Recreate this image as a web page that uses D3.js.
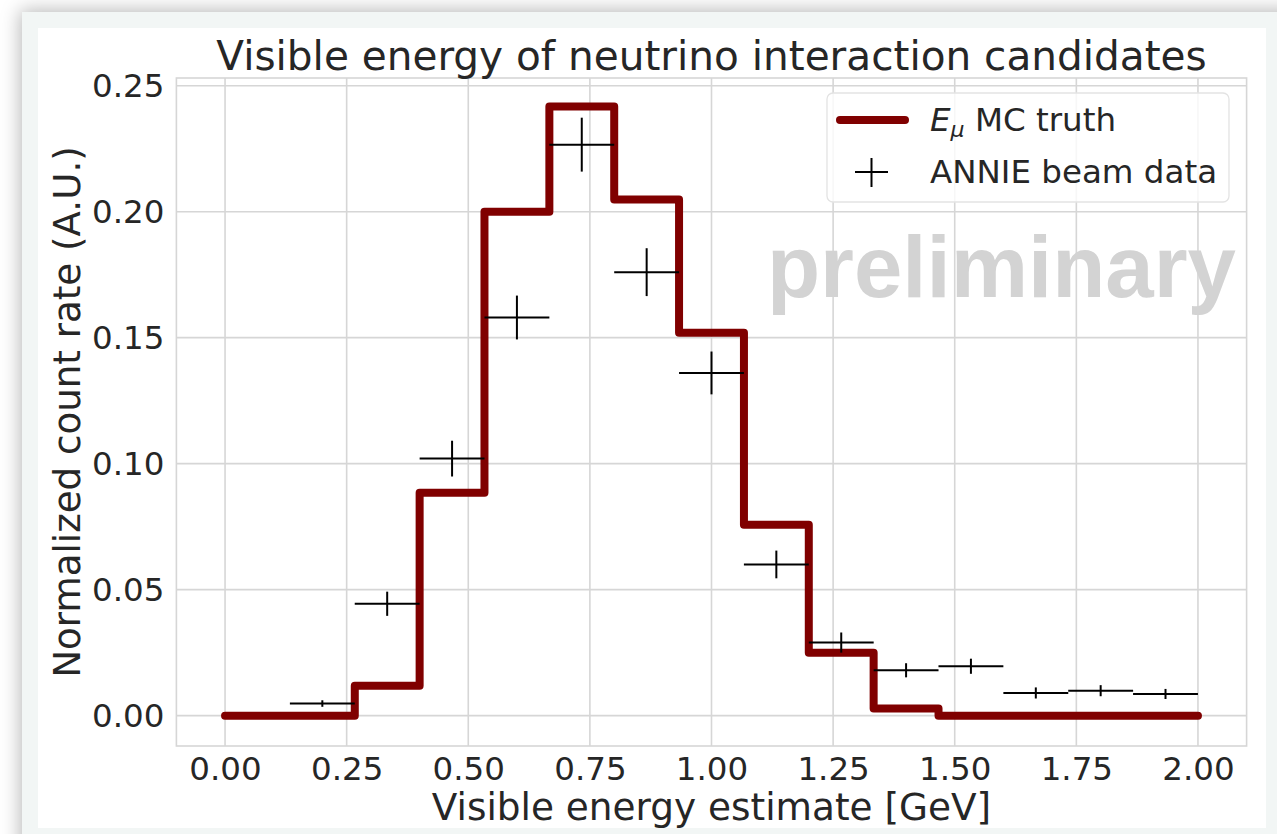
<!DOCTYPE html>
<html>
<head>
<meta charset="utf-8">
<script src="https://cdn.jsdelivr.net/npm/d3@7"></script>
<style>
  html, body { margin: 0; padding: 0; background: #ffffff; overflow: hidden; }
  #panel {
    position: absolute; left: 22px; top: 12px; width: 1300px; height: 900px;
    background: #f2f6f5; box-shadow: -2px -2px 18px rgba(0,0,0,0.28);
  }
  svg { position: absolute; left: 0; top: 0; }
</style>
</head>
<body>
<div id="panel"></div>
<svg id="chart" width="1277" height="834"></svg>
<script>
// Bin edges of the energy histogram (GeV): 15 bins from 0 to 2
const binEdges = [0, 0.1333, 0.2667, 0.4, 0.5333, 0.6667, 0.8, 0.9333, 1.0667, 1.2, 1.3333, 1.4667, 1.6, 1.7333, 1.8667, 2.0];
// MC truth (normalized), one value per bin
const mcTruth = [0, 0, 0.0119, 0.0885, 0.2, 0.2417, 0.2048, 0.152, 0.0758, 0.025, 0.0028, 0, 0, 0, 0];
// Beam data: bin centres, values and statistical errors
const dataCenters = [0.2, 0.3333, 0.4667, 0.6, 0.7333, 0.8667, 1.0, 1.1333, 1.2667, 1.4, 1.5333, 1.6667, 1.8, 1.9333];
const dataValues  = [0.0048, 0.0444, 0.1020, 0.1580, 0.2266, 0.1760, 0.1360, 0.0600, 0.0290, 0.0180, 0.0196, 0.0090, 0.0099, 0.0086];
const dataErrors  = [0.0013, 0.0048, 0.0071, 0.0087, 0.0107, 0.0095, 0.0085, 0.0055, 0.0040, 0.0028, 0.0030, 0.0022, 0.0022, 0.0020];
const binHalfWidth = 0.0667;
// Tick labels
const xTicks = [0, 0.25, 0.5, 0.75, 1.0, 1.25, 1.5, 1.75, 2.0];
const yTicks = [0, 0.05, 0.10, 0.15, 0.20, 0.25];

const svg = d3.select("#chart");
const textColor = "#262626";
const gridColor = "#d6d6d6";
const font = "'DejaVu Sans', sans-serif";

// white figure area
svg.append("rect").attr("x", 38).attr("y", 28).attr("width", 1228).attr("height", 800).attr("fill", "#ffffff");

const x = d3.scaleLinear().domain([-0.1, 2.1]).range([176.4, 1246.6]);
const y = d3.scaleLinear().domain([-0.01205, 0.25305]).range([746, 78]);

const plot = svg.append("g");

// grid
plot.selectAll(".gx").data(xTicks).join("line")
  .attr("x1", d => x(d)).attr("x2", d => x(d)).attr("y1", y.range()[1]).attr("y2", y.range()[0])
  .attr("stroke", gridColor).attr("stroke-width", 1.6);
plot.selectAll(".gy").data(yTicks).join("line")
  .attr("y1", d => y(d)).attr("y2", d => y(d)).attr("x1", x.range()[0]).attr("x2", x.range()[1])
  .attr("stroke", gridColor).attr("stroke-width", 1.6);

// spines
plot.append("rect").attr("x", x.range()[0]).attr("y", y.range()[1])
  .attr("width", x.range()[1] - x.range()[0]).attr("height", y.range()[0] - y.range()[1])
  .attr("fill", "none").attr("stroke", gridColor).attr("stroke-width", 1.6);

// axes (labels only, no tick marks)
const xAxis = d3.axisBottom(x).tickValues(xTicks).tickFormat(d3.format(".2f")).tickSize(0).tickPadding(11);
const yAxis = d3.axisLeft(y).tickValues(yTicks).tickFormat(d3.format(".2f")).tickSize(0).tickPadding(12);
const gx = svg.append("g").attr("transform", `translate(0,${y.range()[0]})`).call(xAxis);
const gy = svg.append("g").attr("transform", `translate(${x.range()[0]},0)`).call(yAxis);
[gx, gy].forEach(g => {
  g.select(".domain").remove();
  g.selectAll("text").attr("font-family", font).attr("font-size", 32.5).attr("fill", textColor);
});

// MC truth step line
const stepPoints = binEdges.map((e, i) => [e, i < mcTruth.length ? mcTruth[i] : mcTruth[mcTruth.length - 1]]);
const stepLine = d3.line().x(d => x(d[0])).y(d => y(d[1])).curve(d3.curveStepAfter);
plot.append("path").datum(stepPoints).attr("d", stepLine)
  .attr("fill", "none").attr("stroke", "#800000").attr("stroke-width", 8)
  .attr("stroke-linejoin", "round").attr("stroke-linecap", "round");

// beam data with error bars
const pts = dataCenters.map((c, i) => ({ c, v: dataValues[i], e: dataErrors[i] }));
const eb = plot.append("g").attr("stroke", "#000").attr("stroke-width", 2);
eb.selectAll(".h").data(pts).join("line")
  .attr("x1", d => x(d.c - binHalfWidth)).attr("x2", d => x(d.c + binHalfWidth))
  .attr("y1", d => y(d.v)).attr("y2", d => y(d.v));
eb.selectAll(".v").data(pts).join("line")
  .attr("x1", d => x(d.c)).attr("x2", d => x(d.c))
  .attr("y1", d => y(d.v - d.e)).attr("y2", d => y(d.v + d.e));

// watermark
svg.append("text").attr("x", 1236).attr("y", 297).attr("text-anchor", "end")
  .attr("font-family", "'Liberation Sans', Arial, sans-serif").attr("font-weight", "bold")
  .attr("font-size", 87).attr("fill", "#d3d3d3").text("preliminary");

// legend
const lg = svg.append("g");
lg.append("rect").attr("x", 827).attr("y", 93).attr("width", 402).attr("height", 109).attr("rx", 6)
  .attr("fill", "#ffffff").attr("fill-opacity", 0.8).attr("stroke", "#e3e3e3").attr("stroke-width", 1.3);
lg.append("line").attr("x1", 840).attr("x2", 905).attr("y1", 120).attr("y2", 120)
  .attr("stroke", "#800000").attr("stroke-width", 8).attr("stroke-linecap", "round");
lg.append("line").attr("x1", 855).attr("x2", 888).attr("y1", 172).attr("y2", 172).attr("stroke", "#000").attr("stroke-width", 2);
lg.append("line").attr("x1", 871.5).attr("x2", 871.5).attr("y1", 158).attr("y2", 187).attr("stroke", "#000").attr("stroke-width", 2);
const t1 = lg.append("text").attr("x", 930).attr("y", 131).attr("font-family", font).attr("font-size", 32.5).attr("fill", textColor);
t1.append("tspan").attr("font-style", "italic").text("E");
t1.append("tspan").attr("font-style", "italic").attr("font-size", 22).attr("dy", 6).text("μ");
t1.append("tspan").attr("dy", -6).text(" MC truth");
lg.append("text").attr("x", 930).attr("y", 183).attr("font-family", font).attr("font-size", 32.5).attr("fill", textColor)
  .text("ANNIE beam data");

// titles
svg.append("text").attr("x", 711.5).attr("y", 70).attr("text-anchor", "middle")
  .attr("font-family", font).attr("font-size", 40.6).attr("fill", textColor)
  .text("Visible energy of neutrino interaction candidates");
svg.append("text").attr("x", 711.5).attr("y", 820).attr("text-anchor", "middle")
  .attr("font-family", font).attr("font-size", 37.4).attr("fill", textColor)
  .text("Visible energy estimate [GeV]");
svg.append("text").attr("transform", "translate(80,412) rotate(-90)").attr("text-anchor", "middle")
  .attr("font-family", font).attr("font-size", 37.2).attr("fill", textColor)
  .text("Normalized count rate (A.U.)");
</script>
</body>
</html>
